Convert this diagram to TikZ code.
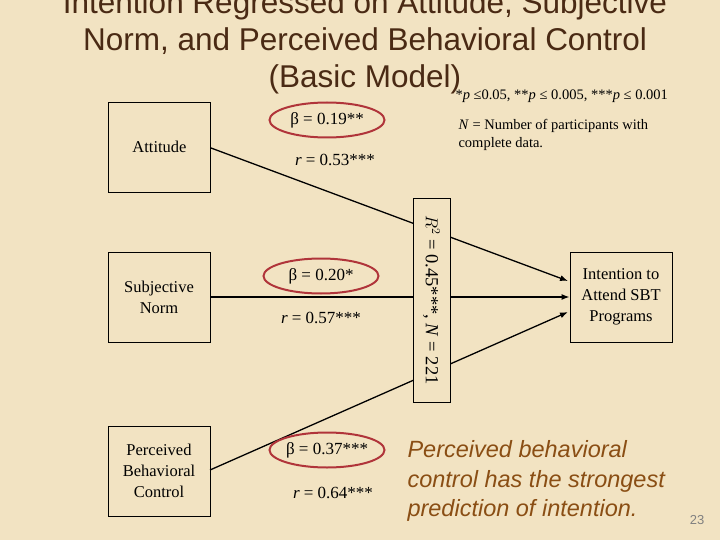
\documentclass[tikz,border=0pt]{standalone}
\usepackage{fontspec}
\setmainfont{Liberation Serif}
\newfontfamily\arialf{Liberation Sans}
\usetikzlibrary{arrows.meta,shapes.geometric}
\definecolor{bg}{HTML}{F2E3C2}
\definecolor{ttl}{HTML}{4A2A14}
\definecolor{oval}{HTML}{B0343A}
\definecolor{note}{HTML}{8A4E14}
\begin{document}
\begin{tikzpicture}[x=1pt,y=-1pt,
  boxn/.style={draw,line width=0.8pt,fill=bg,minimum width=102pt,minimum height=90pt,align=center,font=\fontsize{16.5}{21}\selectfont},
  lbl/.style={font=\fontsize{17}{19}\selectfont},
  ov/.style={draw=oval,line width=2pt,ellipse,minimum width=115pt,minimum height=35pt,inner sep=0pt},
  conn/.style={line width=1.3pt,-{Latex[length=8pt,width=6pt]}}]
\fill[bg] (0,0) rectangle (720,540);
\useasboundingbox (0,0) rectangle (720,540);
\node[font=\arialf\fontsize{31.5}{37}\selectfont,text=ttl,align=center] (title) at (365,42)
 {Intention Regressed on Attitude, Subjective\\Norm, and Perceived Behavioral Control\\(Basic Model)};
\node[boxn] (att) at (159.5,147) {Attitude};
\node[boxn] (sn) at (159,297) {Subjective\\Norm};
\node[boxn] (pbc) at (159,471) {Perceived\\Behavioral\\Control};
\node[boxn] (int) at (621,297) {Intention to\\Attend SBT\\Programs};
\coordinate (a1) at (211,148);
\coordinate (a2) at (568,281);
\coordinate (p1) at (210,470);
\coordinate (p2) at (568,312);
\draw[conn] (a1) -- (a2);
\draw[conn] (sn.east) -- (int.west);
\draw[conn] (p1) -- (p2);
\node[draw,line width=0.8pt,fill=bg,minimum width=37pt,minimum height=204pt,inner sep=0pt] (r2) at (431.5,300) {};
\node[rotate=-90,font=\fontsize{18.5}{20}\selectfont] (r2t) at (r2) {$R^2$ = 0.45***, \textit{N} = 221};
\node[ov] (e1) at (327,120) {};
\node[ov] (e2) at (321,276) {};
\node[ov] (e3) at (327,450) {};
\node[lbl] (b1) at (e1) {β = 0.19**};
\node[lbl] (b2) at (e2) {β = 0.20*};
\node[lbl] (b3) at (e3) {β = 0.37***};
\node[lbl] (r1) at (335,160) {\textit{r} = 0.53***};
\node[lbl] (rr2) at (321,318) {\textit{r} = 0.57***};
\node[lbl] (r3) at (333,493) {\textit{r} = 0.64***};
\node[anchor=west,font=\fontsize{14.5}{16}\selectfont] (sig) at (452,96) {*\textit{p} ≤0.05, **\textit{p} ≤ 0.005, ***\textit{p} ≤ 0.001};
\node[anchor=north west,align=left,font=\fontsize{14.5}{18}\selectfont] (nn) at (455,116) {\textit{N} = Number of participants with\\complete data.};
\node[anchor=north west,align=left,text=note,font=\arialf\itshape\fontsize{23.5}{29.5}\selectfont] (conc) at (404,437) {Perceived behavioral\\control has the strongest\\prediction of intention.};
\node[text=gray,font=\arialf\fontsize{13}{15}\selectfont] (pg) at (697,520) {23};
\end{tikzpicture}
\end{document}
